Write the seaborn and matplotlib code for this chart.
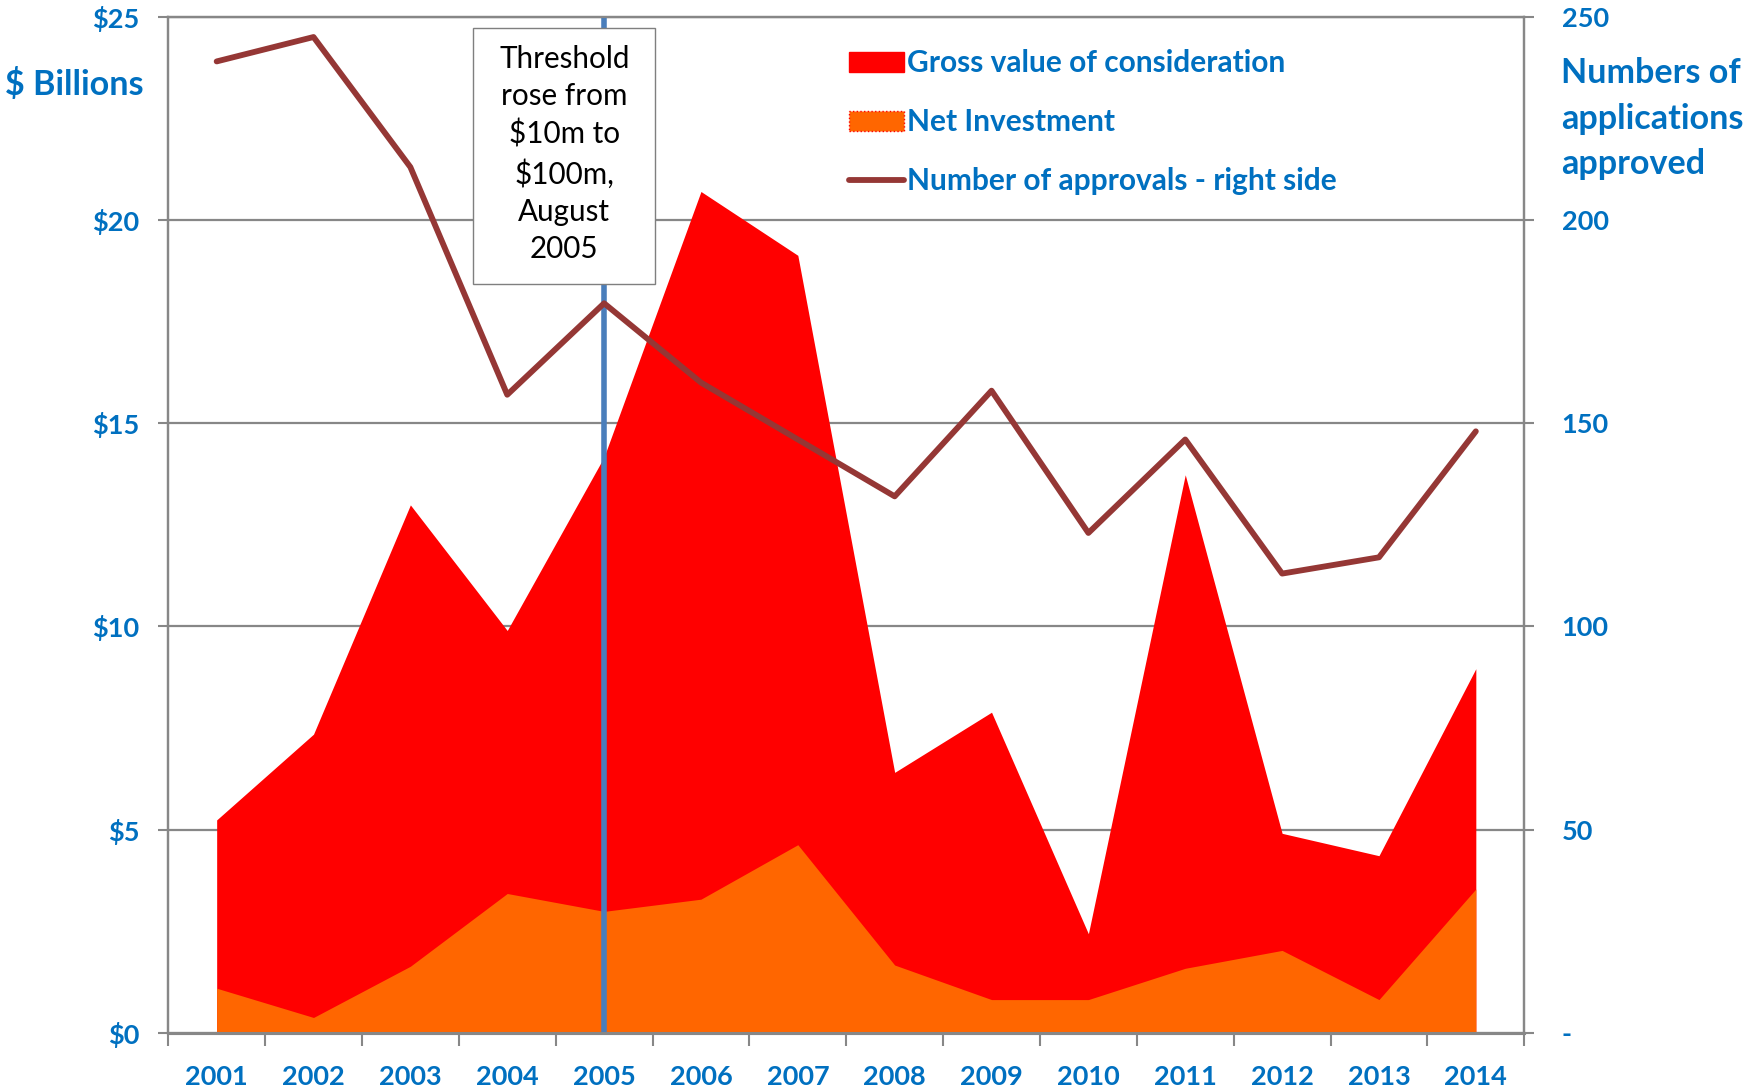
#libraries for the chart
import pandas as pd
import numpy as np
import matplotlib.pyplot as plt
import seaborn as sns
from matplotlib.patches import Patch, Rectangle
from matplotlib.lines import Line2D

# data
years = ["2001", "2002", "2003", "2004", "2005", "2006", "2007",
         "2008", "2009", "2010", "2011", "2012", "2013", "2014"]
gross_value = [5.24, 7.35, 12.99, 9.9, 14.17, 20.7, 19.13,
               6.41, 7.89, 2.44, 13.73, 4.91, 4.36, 8.96]
net_investment = [1.10, 0.38, 1.64, 3.43, 2.99, 3.29, 4.63,
                  1.67, 0.82, 0.82, 1.59, 2.03, 0.82, 3.54]
approvals = [239, 245, 213, 157, 179.5, 160, 146,
             132, 158, 123, 146, 113, 117, 148]

left_ticks = [0, 5, 10, 15, 20, 25]
left_labels = ["$0", "$5", "$10", "$15", "$20", "$25"]
right_ticks = [0, 50, 100, 150, 200, 250]
right_labels = ["-", "50", "100", "150", "200", "250"]
threshold_year = "2005"

df = pd.DataFrame({"Year": years, "Gross": gross_value,
                   "Net": net_investment, "Approvals": approvals})
df["pos"] = np.arange(len(df))

BLUE = "#0070C0"
GRID = "#878787"

sns.set_style("white")
plt.rcParams["font.family"] = ["Lato", "DejaVu Sans"]

fig = plt.figure(figsize=(17.47, 10.92), dpi=100)
ax = fig.add_axes([0.0963, 0.0541, 0.7762, 0.9306])

# stacked-looking areas (gross behind, net in front)
ax.fill_between(df["pos"], df["Gross"], color="#FF0000", lw=0, zorder=2)
ax.fill_between(df["pos"], df["Net"], color="#FF6600", lw=0, zorder=3)

ax.set_xlim(-0.5, len(df) - 0.5)
ax.set_ylim(0, 25)
ax.set_axisbelow(True)
ax.yaxis.grid(True, color=GRID, lw=1.6)
ax.set_yticks(left_ticks)
ax.set_yticklabels(left_labels)
ax.set_xticks(df["pos"])
ax.set_xticklabels(df["Year"])
ax.set_xticks(np.arange(-0.5, len(df), 1), minor=True)
ax.tick_params(axis="x", which="major", length=0, pad=23,
               labelsize=19.5, labelcolor=BLUE)
ax.tick_params(axis="x", which="minor", length=9, width=1.5, color=GRID,
               direction="out", bottom=True)
ax.tick_params(axis="y", length=7, width=1.5, color=GRID, direction="out",
               left=True, pad=14, labelsize=19.5, labelcolor=BLUE)
for lbl in ax.get_xticklabels() + ax.get_yticklabels():
    lbl.set_fontweight("bold")
for side in ["left", "right", "bottom", "top"]:
    ax.spines[side].set_color(GRID)
    ax.spines[side].set_linewidth(1.6)
ax.spines["bottom"].set_linewidth(2.2)

# threshold marker
ax.axvline(df.loc[df["Year"] == threshold_year, "pos"].iloc[0],
           color="#4A7EBB", lw=4, zorder=6)

# approvals on the right axis
ax2 = ax.twinx()
sns.lineplot(data=df, x="pos", y="Approvals", ax=ax2, color="#953735",
             lw=4.2, legend=False, sort=False)
ax2.set_ylim(0, 250)
ax2.set_xlim(-0.5, len(df) - 0.5)
ax2.set_yticks(right_ticks)
ax2.set_yticklabels(right_labels)
ax2.set_ylabel("")
ax2.set_xlabel("")
ax.set_xlabel("")
ax2.tick_params(axis="y", length=7, width=1.5, color=GRID, direction="out",
                right=True, pad=20, labelsize=19.5, labelcolor=BLUE)
for lbl in ax2.get_yticklabels():
    lbl.set_fontweight("bold")
for side in ["left", "right", "bottom", "top"]:
    ax2.spines[side].set_color(GRID)
    ax2.spines[side].set_linewidth(1.6)
ax2.spines["bottom"].set_linewidth(2.2)

# annotation box
fig.add_artist(Rectangle((0.271, 0.740), 0.104, 0.2345, transform=fig.transFigure,
                         facecolor="white", edgecolor="#7F7F7F", lw=1.0, zorder=10))
fig.text(0.323, 0.859, "Threshold\nrose from\n$10m to\n$100m,\nAugust\n2005",
         ha="center", va="center", fontsize=21.3, linespacing=1.4,
         color="black", zorder=11)

# axis titles
fig.text(0.003, 0.923, "$ Billions", ha="left", va="center",
         fontsize=24.6, fontweight="bold", color=BLUE)
fig.text(0.8936, 0.9474, "Numbers of\napplications\napproved", ha="left", va="top",
         fontsize=24.6, fontweight="bold", color=BLUE, linespacing=1.52)

# legend
handles = [
    Patch(facecolor="#FF0000", edgecolor="#FF0000"),
    Patch(facecolor="#FF6600", edgecolor="#FF0000", linestyle=":", lw=1),
    Line2D([0], [0], color="#953735", lw=4.2),
]
labels = ["Gross value of consideration", "Net Investment",
          "Number of approvals - right side"]
fig.legend(handles, labels, loc="upper left", bbox_to_anchor=(0.486, 0.955),
           frameon=False, prop={"weight": "bold", "size": 21.5}, labelcolor=BLUE,
           handlelength=1.83, handleheight=0.67, handletextpad=0.1,
           labelspacing=1.04, borderaxespad=0, borderpad=0)

fig.savefig("out.png", dpi=100)
